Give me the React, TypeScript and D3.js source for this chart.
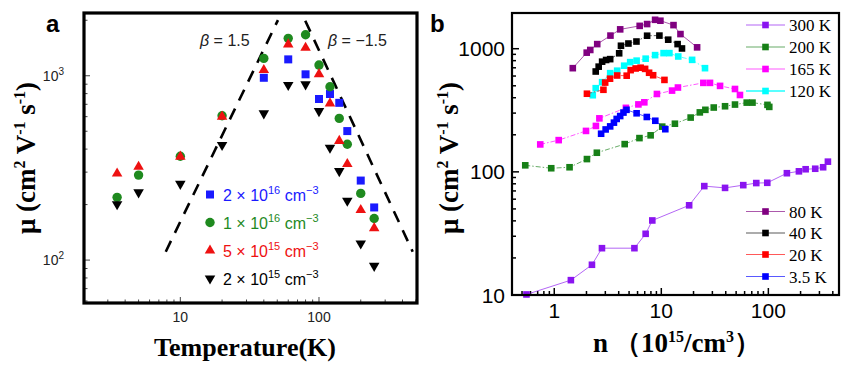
import React from "react";
import * as d3 from "d3";

// ---- panel a: mobility vs temperature ----
const tempK = [3.5, 5, 10, 20, 40, 60, 80, 100, 120, 140, 160, 200, 250];
const mu2e16 = [null, null, null, null, 975, 1227, 1018, 748, 796, 713, 501, 270, 193];
const mu1e16 = [219, 289, 366, 607, 1242, 1596, 1668, 1143, 872, 587, 425, 230, 168];
const mu5e15 = [295, 321, 364, 600, 1074, 1480, 1419, 1021, 708, 443, 332, 187, 149];
const mu2e15 = [201, 233, 259, 421, 625, 891, 898, 643, 407, 304, 210, 123, 93];
const betaUp = [[7.85, 111], [50.6, 2005]];
const betaDown = [[79.6, 1987], [474, 111]];
const legendA = [
  { base: "2", exp: "16", color: "#1a1aff", shape: "square" },
  { base: "1", exp: "16", color: "#1f8a1f", shape: "circle" },
  { base: "5", exp: "15", color: "#ee1111", shape: "up" },
  { base: "2", exp: "15", color: "#000000", shape: "down" },
];

// ---- panel b: mobility vs carrier density ----
const n300 = [0.55, 1.43, 2.25, 2.79, 5.61, 7.14, 8.24, 18.2, 25.2, 39.4, 58.3, 77.1, 97.7, 149, 193, 223, 274, 325, 360];
const mu300 = [10.1, 13.2, 17.6, 24.0, 24.0, 31.4, 40.3, 53.5, 76.6, 74.1, 78.0, 81.1, 81.5, 97.5, 101, 105, 106, 109, 121];
const n200 = [0.536, 0.937, 1.39, 2.02, 2.5, 4.55, 6.25, 7.95, 10.2, 13.4, 18.8, 22.9, 25.8, 30.9, 39.4, 48.8, 62.8, 71.1, 98.1, 102];
const mu200 = [113, 107, 109, 127, 143, 168, 188, 198, 233, 246, 276, 304, 319, 333, 341, 352, 365, 365, 350, 337];
const n165 = [0.74, 1.1, 1.98, 2.45, 2.64, 4.67, 6.11, 6.94, 9.1, 12.6, 14.3, 24.7, 28.5, 35.4, 48.8, 54.3];
const mu165 = [167, 181, 215, 236, 272, 331, 353, 367, 429, 457, 484, 528, 528, 499, 471, 421];
const n120 = [2.29, 2.44, 2.8, 3.33, 3.87, 4.5, 5.12, 5.88, 7.14, 8.75, 10.5, 11.9, 14.4, 19.4, 25.6];
const mu120 = [419, 478, 535, 633, 663, 728, 778, 800, 830, 887, 921, 921, 865, 812, 695];
const n80 = [1.49, 2.01, 2.17, 2.52, 3.35, 4.13, 6.28, 7.37, 8.75, 9.81, 13.0, 15.1, 21.6];
const mu80 = [695, 929, 977, 1090, 1278, 1436, 1533, 1586, 1717, 1688, 1555, 1315, 1026];
const n40 = [2.44, 2.6, 2.8, 3.05, 3.33, 4.04, 4.2, 4.93, 5.86, 7.37, 9.6, 11.6, 14.2, 15.6];
const mu40 = [653, 715, 785, 810, 823, 918, 1057, 1102, 1144, 1275, 1278, 1184, 1090, 1005];
const n20 = [2.02, 2.88, 2.99, 3.32, 3.87, 4.75, 5.17, 5.76, 6.41, 7.06, 7.69, 8.39, 10.7];
const mu20 = [431, 464, 531, 571, 606, 604, 670, 691, 701, 686, 638, 609, 558];
const n3p5 = [2.74, 3.02, 3.33, 3.61, 3.83, 4.13, 4.43, 4.73, 5.88, 7.32, 8.79, 10.9];
const mu3p5 = [204, 221, 234, 251, 269, 284, 303, 319, 299, 279, 260, 222];

const seriesB = [
  { label: "300 K", n: n300, mu: mu300, color: "#8a14f0", dash: "" },
  { label: "200 K", n: n200, mu: mu200, color: "#178017", dash: "5,2,1.5,2" },
  { label: "165 K", n: n165, mu: mu165, color: "#ff00ff", dash: "5,2,1.5,2" },
  { label: "120 K", n: n120, mu: mu120, color: "#00ffff", dash: "5,2,1.5,2" },
  { label: "80 K", n: n80, mu: mu80, color: "#800080", dash: "" },
  { label: "40 K", n: n40, mu: mu40, color: "#000000", dash: "5,2,1.5,2" },
  { label: "20 K", n: n20, mu: mu20, color: "#ff0000", dash: "5,2,1.5,2" },
  { label: "3.5 K", n: n3p5, mu: mu3p5, color: "#0000ff", dash: "" },
];

const serif = "'Liberation Serif', 'Times New Roman', serif";
const sans = "'Liberation Sans', Arial, Helvetica, sans-serif";

const A = { left: 84, right: 417, top: 13, bottom: 303 };
const B = { left: 512, right: 839, top: 13, bottom: 295 };

const xA = d3.scaleLog().domain([2.02, 509]).range([A.left, A.right]);
const yA = d3.scaleLog().domain([58.5, 2190]).range([A.bottom, A.top]);
const xB = d3.scaleLog().domain([0.403, 457]).range([B.left, B.right]);
const yB = d3.scaleLog().domain([10, 1950]).range([B.bottom, B.top]);

const isMajor = (v: number) => Math.abs(Math.log10(v) - Math.round(Math.log10(v))) < 1e-6;

function Marker({ shape, x, y, color }: any) {
  if (shape === "square") return <rect x={x - 4} y={y - 4} width={8} height={8} fill={color} />;
  if (shape === "circle") return <circle cx={x} cy={y} r={4.7} fill={color} />;
  const p = d3.symbol().type(d3.symbolTriangle).size(48)() as string;
  return <path d={p} fill={color} transform={`translate(${x},${y})${shape === "down" ? " rotate(180)" : ""}`} />;
}

function MuLabel({ x, y }: { x: number; y: number }) {
  return (
    <text transform={`translate(${x},${y}) rotate(-90)`} textAnchor="middle" fontFamily={serif} fontWeight="bold" fontSize={27}>
      μ (cm<tspan fontSize={16} dy={-10}>2</tspan>
      <tspan dy={10}> V</tspan>
      <tspan fontSize={16} dy={-10}>-1</tspan>
      <tspan dy={10}> s</tspan>
      <tspan fontSize={16} dy={-10}>-1</tspan>
      <tspan dy={10}>)</tspan>
    </text>
  );
}

function PanelA() {
  const tA = xA.ticks();
  const tY = yA.ticks();
  const line = d3.line<number[]>().x((d) => xA(d[0])).y((d) => yA(d[1]));
  const sets = [
    { vals: mu2e16, ...legendA[0] },
    { vals: mu1e16, ...legendA[1] },
    { vals: mu5e15, ...legendA[2] },
    { vals: mu2e15, ...legendA[3] },
  ];
  return (
    <g>
      <text x={46} y={32} fontFamily={sans} fontWeight="bold" fontSize={24}>a</text>
      {tY.map((v, i) => (
        <line key={"ya" + i} x1={A.left} x2={A.left + (isMajor(v) ? 6 : 3.5)} y1={yA(v)} y2={yA(v)} stroke="#444" strokeWidth={1} />
      ))}
      {tA.map((v, i) => (
        <line key={"xa" + i} x1={xA(v)} x2={xA(v)} y1={A.bottom} y2={A.bottom - (isMajor(v) ? 6 : 3.5)} stroke="#444" strokeWidth={1} />
      ))}
      {[100, 1000].map((v) => (
        <text key={v} x={64} y={yA(v) + 5} textAnchor="end" fontFamily={sans} fontSize={14} fill="#222">
          10<tspan fontSize={10} dy={-6}>{v === 100 ? 2 : 3}</tspan>
        </text>
      ))}
      {[10, 100].map((v) => (
        <text key={v} x={xA(v)} y={321.5} textAnchor="middle" fontFamily={sans} fontSize={14} fill="#222">{v}</text>
      ))}
      <path d={line(betaUp as any) || ""} stroke="#000" strokeWidth={2.6} fill="none" strokeDasharray="12,9" />
      <path d={line(betaDown as any) || ""} stroke="#000" strokeWidth={2.6} fill="none" strokeDasharray="12,9" />
      <text x={200} y={46} fontFamily={sans} fontSize={16} fill="#222">
        <tspan fontStyle="italic">β</tspan> = 1.5
      </text>
      <text x={328} y={46} fontFamily={sans} fontSize={16} fill="#222">
        <tspan fontStyle="italic">β</tspan> = −1.5
      </text>
      {sets.map((s) =>
        tempK.map((t, i) =>
          s.vals[i] == null ? null : <Marker key={s.color + i} shape={s.shape} x={xA(t)} y={yA(s.vals[i] as number)} color={s.color} />
        )
      )}
      {legendA.map((l, i) => {
        const cy = 194.5 + i * 28;
        return (
          <g key={i}>
            <Marker shape={l.shape} x={210} y={cy} color={l.color} />
            <text x={223} y={cy + 6} fontFamily={sans} fontSize={16} fill={l.color}>
              {l.base} × 10<tspan fontSize={11} dy={-7}>{l.exp}</tspan>
              <tspan dy={7}> cm</tspan>
              <tspan fontSize={11} dy={-7}>−3</tspan>
            </text>
          </g>
        );
      })}
      <rect x={A.left} y={A.top} width={A.right - A.left} height={A.bottom - A.top} fill="none" stroke="#000" strokeWidth={3.2} />
      <MuLabel x={35} y={158} />
      <text x={245} y={356} textAnchor="middle" fontFamily={serif} fontWeight="bold" fontSize={26}>Temperature(K)</text>
    </g>
  );
}

function PanelB() {
  const tX = xB.ticks();
  const tY = yB.ticks();
  const line = d3.line<number[]>();
  const legendRows = [25, 47, 69, 91, 211.5, 233, 254.5, 276.5];
  return (
    <g>
      <text x={430} y={32} fontFamily={sans} fontWeight="bold" fontSize={24}>b</text>
      {tY.map((v, i) => (
        <line key={"yb" + i} x1={B.left} x2={B.left + (isMajor(v) ? 7 : 4)} y1={yB(v)} y2={yB(v)} stroke="#000" strokeWidth={1.5} />
      ))}
      {tX.map((v, i) => (
        <line key={"xb" + i} x1={xB(v)} x2={xB(v)} y1={B.bottom} y2={B.bottom - (isMajor(v) ? 7 : 4)} stroke="#000" strokeWidth={1.5} />
      ))}
      {[10, 100, 1000].map((v) => (
        <text key={v} x={505} y={yB(v) + 7.5} textAnchor="end" fontFamily={sans} fontSize={21}>{v}</text>
      ))}
      {[1, 10, 100].map((v) => (
        <text key={v} x={xB(v)} y={318} textAnchor="middle" fontFamily={sans} fontSize={21}>{v}</text>
      ))}
      {seriesB.map((s) => {
        const pts = s.n.map((n, i) => [xB(n), yB(s.mu[i])]);
        return (
          <g key={s.label}>
            <path d={line(pts as any) || ""} fill="none" stroke={s.color} strokeOpacity={0.65} strokeWidth={1} strokeDasharray={s.dash || undefined} />
            {pts.map((p, i) => (
              <rect key={i} x={p[0] - 3.3} y={p[1] - 3.3} width={6.6} height={6.6} fill={s.color} />
            ))}
          </g>
        );
      })}
      {seriesB.map((s, i) => (
        <g key={"lg" + i}>
          <line x1={746} x2={785} y1={legendRows[i]} y2={legendRows[i]} stroke={s.color} strokeOpacity={0.65} strokeWidth={i === 3 ? 2 : 1.2} />
          <rect x={762.2} y={legendRows[i] - 3.3} width={6.6} height={6.6} fill={s.color} />
          <text x={789} y={legendRows[i] + 6} fontFamily={serif} fontSize={17}>{s.label}</text>
        </g>
      ))}
      <rect x={B.left} y={B.top} width={B.right - B.left} height={B.bottom - B.top} fill="none" stroke="#000" strokeWidth={2.2} />
      <MuLabel x={458} y={158} />
      <text x={677} y={352} textAnchor="middle" fontFamily={serif} fontWeight="bold" fontSize={27}>
        n<tspan dx={6}>（10</tspan>
        <tspan fontSize={16} dy={-10}>15</tspan>
        <tspan dy={10}>/cm</tspan>
        <tspan fontSize={16} dy={-10}>3</tspan>
        <tspan dy={10}>）</tspan>
      </text>
    </g>
  );
}

export default function App() {
  return (
    <svg width={850} height={370} style={{ position: "absolute", left: 0, top: 0, background: "#fff" }}>
      <rect width={850} height={370} fill="#fff" />
      <PanelA />
      <PanelB />
    </svg>
  );
}
